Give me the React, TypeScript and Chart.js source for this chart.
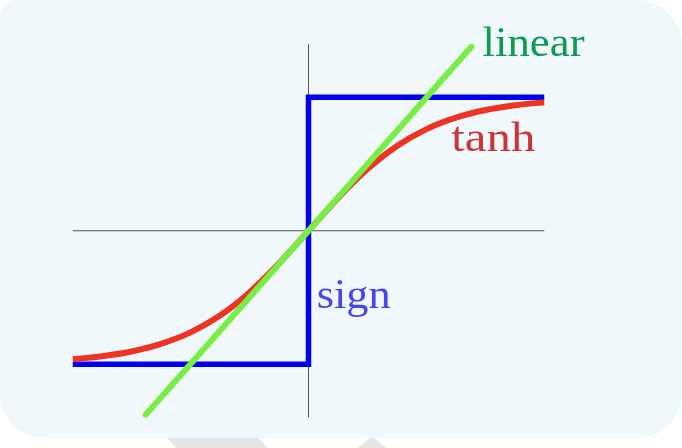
import React, { useEffect, useRef } from "react";
import { Chart, registerables } from "chart.js";

Chart.register(...registerables);

// x range and y range of the plot
const xRange = [-2, 2];
const yRange = [-1.4, 1.4];

// sign function corner points
const signX = [-2, 0, 0, 2];
const signY = [-1, -1, 1, 1];

// tanh curve
const tanhX = [-2, -1.75, -1.5, -1.25, -1, -0.75, -0.5, -0.25, 0, 0.25, 0.5, 0.75, 1, 1.25, 1.5, 1.75, 2];
const tanhY = [-0.964, -0.941, -0.905, -0.848, -0.762, -0.635, -0.462, -0.245, 0, 0.245, 0.462, 0.635, 0.762, 0.848, 0.905, 0.941, 0.964];

// linear line end points
const linearX = [-1.38, 1.38];
const linearY = [-1.38, 1.38];

// labels
const labelTexts = ["linear", "tanh", "sign"];
const labelX = [1.475, 1.21, 0.07];
const labelY = [1.31, 0.6, -0.58];
const labelColors = ["#0f9a52", "#cc3535", "#4646ee"];
const labelWidths = [102, 84, 74];

const zip = (xs: number[], ys: number[]) => xs.map((x, i) => ({ x, y: ys[i] }));

const bgPlugin = {
  id: "bg",
  beforeDraw(chart: any) {
    const ctx = chart.ctx;
    ctx.save();
    ctx.fillStyle = "#ffffff";
    ctx.fillRect(0, 0, chart.width, chart.height);
    // gray decorations under the panel
    ctx.fillStyle = "#e6e6e6";
    ctx.beginPath();
    ctx.moveTo(166, 436);
    ctx.lineTo(256, 436);
    ctx.lineTo(268, 448);
    ctx.lineTo(176, 448);
    ctx.closePath();
    ctx.fill();
    ctx.beginPath();
    ctx.moveTo(372, 436);
    ctx.lineTo(386, 448);
    ctx.lineTo(358, 448);
    ctx.closePath();
    ctx.fill();
    // panel
    ctx.fillStyle = "#f1f8fc";
    ctx.beginPath();
    (ctx as any).roundRect(0, 0, 682, 438, [16, 44, 44, 44]);
    ctx.fill();
    ctx.restore();
  },
};

const labelPlugin = {
  id: "labels",
  afterDatasetsDraw(chart: any) {
    const ctx = chart.ctx;
    const xs = chart.scales.x;
    const ys = chart.scales.y;
    ctx.save();
    ctx.textBaseline = "alphabetic";
    ctx.textAlign = "left";
    ctx.font = "43px 'Liberation Serif', 'DejaVu Serif', serif";
    labelTexts.forEach((t, i) => {
      const px = xs.getPixelForValue(labelX[i]);
      const py = ys.getPixelForValue(labelY[i]);
      const w = ctx.measureText(t).width;
      const s = labelWidths[i] / w;
      ctx.save();
      ctx.translate(px, py);
      ctx.scale(s, 1);
      ctx.fillStyle = labelColors[i];
      ctx.fillText(t, 0, 0);
      ctx.restore();
    });
    ctx.restore();
  },
};

export default function App() {
  const ref = useRef<HTMLCanvasElement>(null);
  useEffect(() => {
    if (!ref.current) return;
    const chart = new Chart(ref.current, {
      type: "line",
      data: {
        datasets: [
          {
            label: "x-axis",
            data: zip(xRange, [0, 0]),
            borderColor: "#555555",
            borderWidth: 1,
            pointRadius: 0,
            order: 10,
          },
          {
            label: "y-axis",
            data: zip([0, 0], yRange),
            borderColor: "#555555",
            borderWidth: 1,
            pointRadius: 0,
            order: 10,
          },
          {
            label: "sign",
            data: zip(signX, signY),
            borderColor: "#0000ee",
            borderWidth: 5.5,
            pointRadius: 0,
            borderJoinStyle: "miter",
            order: 3,
          },
          {
            label: "tanh",
            data: zip(tanhX, tanhY),
            borderColor: "#ee3322",
            borderWidth: 6,
            pointRadius: 0,
            cubicInterpolationMode: "monotone",
            order: 2,
          },
          {
            label: "linear",
            data: zip(linearX, linearY),
            borderColor: "#77ee44",
            borderWidth: 6,
            pointRadius: 0,
            borderCapStyle: "round",
            order: 1,
          },
        ] as any,
      },
      options: {
        animation: false,
        responsive: false,
        maintainAspectRatio: false,
        layout: { padding: { left: 72.5, right: 137.5, top: 44, bottom: 30.5 } },
        plugins: { legend: { display: false }, tooltip: { enabled: false } },
        scales: {
          x: { type: "linear", min: xRange[0], max: xRange[1], display: false },
          y: { type: "linear", min: yRange[0], max: yRange[1], display: false },
        },
      },
      plugins: [bgPlugin, labelPlugin],
    });
    return () => chart.destroy();
  }, []);
  return (
    <div style={{ position: "fixed", left: 0, top: 0, width: 682, height: 448 }}>
      <canvas ref={ref} width={682} height={448} style={{ display: "block" }} />
    </div>
  );
}
